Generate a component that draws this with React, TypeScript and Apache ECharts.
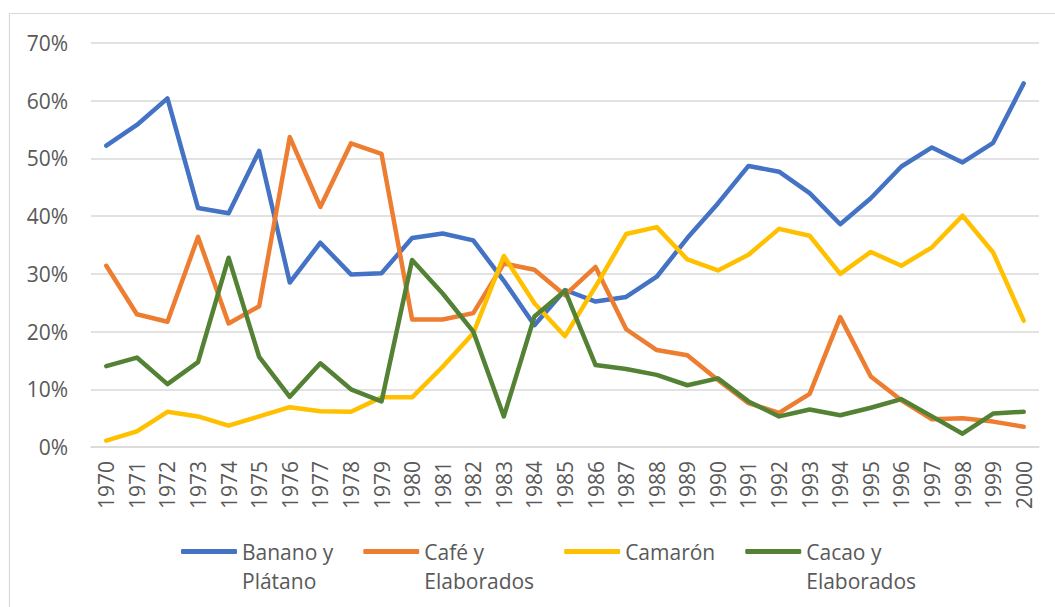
import React, { useEffect, useRef } from "react";
import * as echarts from "echarts";

const years = [
  "1970","1971","1972","1973","1974","1975","1976","1977","1978","1979",
  "1980","1981","1982","1983","1984","1985","1986","1987","1988","1989",
  "1990","1991","1992","1993","1994","1995","1996","1997","1998","1999","2000",
];

const banano = [
  52.2, 55.8, 60.4, 41.4, 40.5, 51.3, 28.5, 35.4, 29.9, 30.1,
  36.2, 37.0, 35.8, 28.8, 21.1, 27.2, 25.2, 26.0, 29.5, 36.2,
  42.2, 48.7, 47.7, 44.0, 38.6, 43.1, 48.6, 51.9, 49.3, 52.7, 63.0,
];

const cafe = [
  31.4, 23.0, 21.7, 36.4, 21.4, 24.4, 53.7, 41.6, 52.6, 50.8,
  22.1, 22.1, 23.2, 31.8, 30.7, 26.3, 31.2, 20.4, 16.8, 15.9,
  11.6, 7.6, 5.9, 9.2, 22.5, 12.2, 8.1, 4.8, 5.0, 4.4, 3.5,
];

const camaron = [
  1.1, 2.7, 6.1, 5.3, 3.7, 5.3, 6.9, 6.2, 6.1, 8.6,
  8.6, 13.9, 19.7, 33.1, 24.9, 19.2, 27.8, 36.9, 38.1, 32.5,
  30.6, 33.3, 37.8, 36.6, 30.0, 33.8, 31.4, 34.6, 40.1, 33.7, 21.9,
];

const cacao = [
  14.0, 15.5, 10.9, 14.7, 32.8, 15.6, 8.7, 14.5, 10.0, 7.9,
  32.4, 26.6, 20.0, 5.3, 22.6, 27.1, 14.2, 13.5, 12.5, 10.7,
  11.9, 7.9, 5.3, 6.5, 5.5, 6.8, 8.3, 5.3, 2.3, 5.8, 6.1,
];

const seriesNames = ["Banano y Plátano", "Café y Elaborados", "Camarón", "Cacao y Elaborados"];
const legendLabels = [" \nBanano y\nPlátano", " \nCafé y\nElaborados", "Camarón", " \nCacao y\nElaborados"];
const colors = ["#4472C4", "#ED7D31", "#FFC000", "#548235"];
const yTicks = { min: 0, max: 70, interval: 10 };

export default function App() {
  const ref = useRef<HTMLDivElement>(null);

  useEffect(() => {
    document.body.style.margin = "0";
    if (!ref.current) return;
    const chart = echarts.init(ref.current, undefined, { renderer: "svg" });
    const font = "'Open Sans', sans-serif";
    const dataSets = [banano, cafe, camaron, cacao];
    const option: any = {
      animation: false,
      backgroundColor: "#ffffff",
      color: colors,
      textStyle: { fontFamily: font },
      graphic: [
        {
          type: "rect",
          shape: { x: 9.5, y: 13.5, width: 1100, height: 700 },
          style: { fill: "none", stroke: "#d9d9d9", lineWidth: 1.2 },
          silent: true,
          z: -10,
        },
      ],
      grid: { left: 91, right: 16, top: 43, bottom: 160, containLabel: false },
      legend: {
        left: 181,
        top: 508,
        padding: 0,
        itemGap: 30,
        itemWidth: 56,
        itemHeight: 5,
        icon: "roundRect",
        data: seriesNames,
        formatter: (name: string) => legendLabels[seriesNames.indexOf(name)],
        textStyle: {
          fontFamily: font,
          fontSize: 21,
          color: "#595959",
          lineHeight: 29,
        },
      },
      xAxis: {
        type: "category",
        data: years,
        boundaryGap: true,
        axisLine: { show: true, lineStyle: { color: "#d9d9d9", width: 1.5 } },
        axisTick: { show: false },
        axisLabel: {
          rotate: 90,
          interval: 0,
          margin: 14,
          fontFamily: font,
          fontSize: 21,
          color: "#595959",
        },
      },
      yAxis: {
        type: "value",
        min: yTicks.min,
        max: yTicks.max,
        interval: yTicks.interval,
        axisLine: { show: false },
        axisTick: { show: false },
        splitLine: { lineStyle: { color: "#d9d9d9", width: 1.5 } },
        axisLabel: {
          formatter: "{value}%",
          margin: 23,
          fontFamily: font,
          fontSize: 21,
          color: "#595959",
        },
      },
      series: seriesNames.map((name, i) => ({
        name,
        type: "line",
        data: dataSets[i],
        symbol: "none",
        lineStyle: { width: 4.5, color: colors[i], cap: "round", join: "round" },
        itemStyle: { color: colors[i] },
      })),
    };
    chart.setOption(option);
    return () => chart.dispose();
  }, []);

  return <div ref={ref} style={{ width: 1055, height: 607 }} />;
}
